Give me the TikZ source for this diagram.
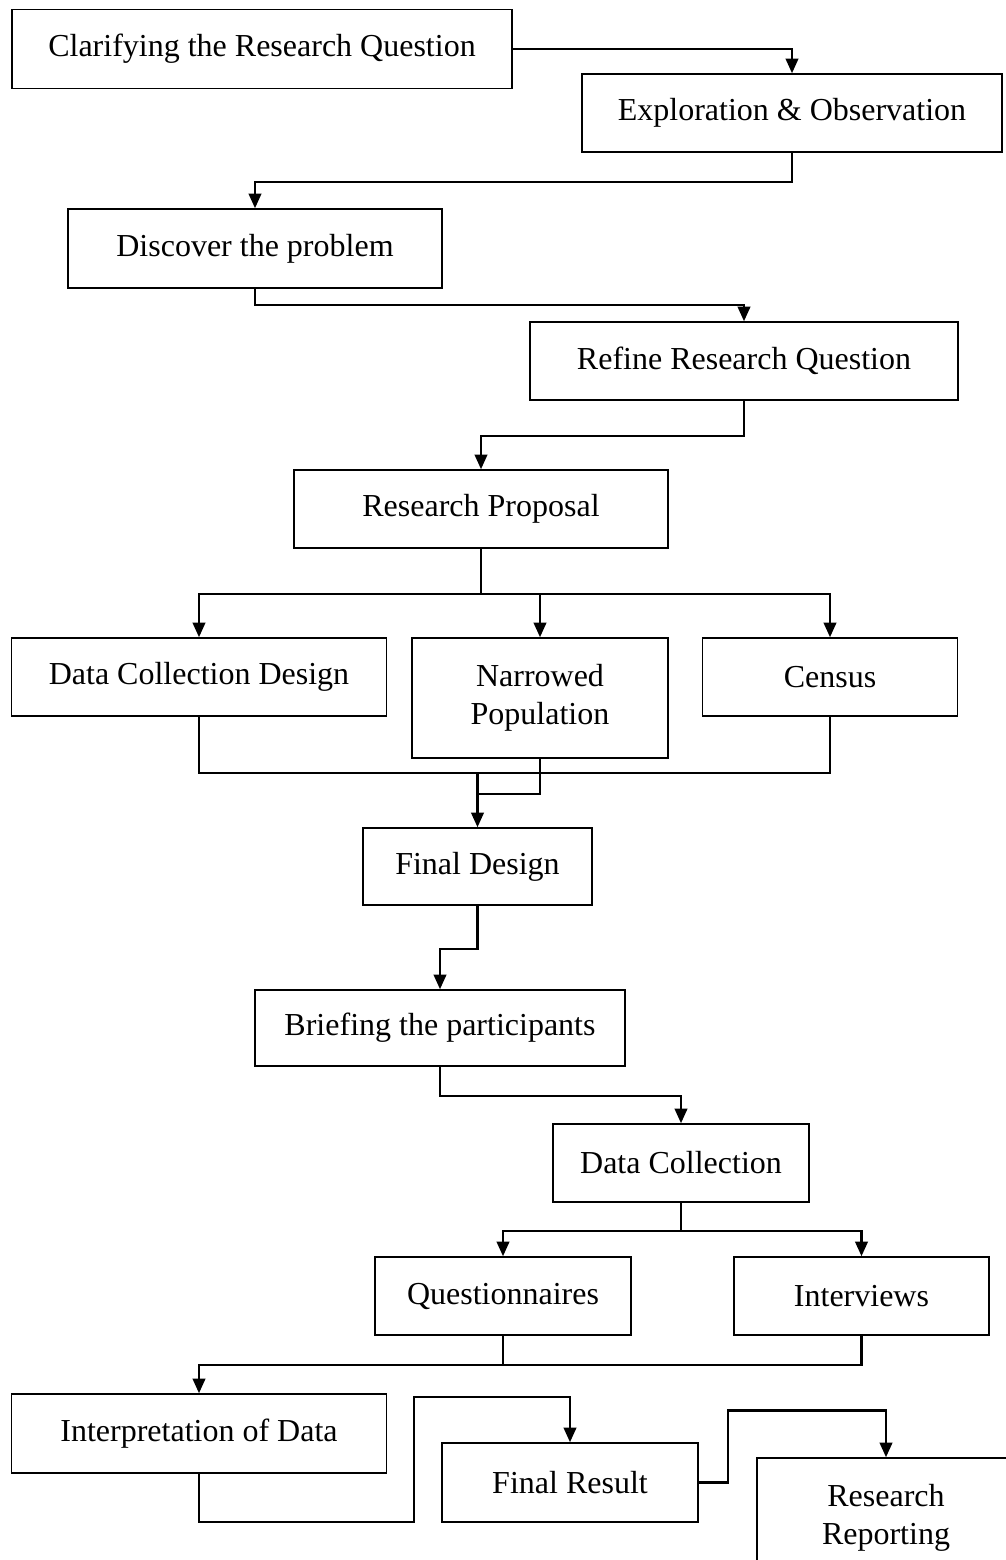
\documentclass[tikz,border=0pt]{standalone}
\usepackage{fontspec}
\setmainfont{Liberation Serif}
\usetikzlibrary{arrows.meta}
\begin{document}
\begin{tikzpicture}[x=0.75pt,y=-0.75pt,
  box/.style 2 args={draw, line width=1.2pt, inner sep=0pt, align=center,
    minimum width={#1*0.75pt}, minimum height={#2*0.75pt},
    font=\fontsize{24}{28.5}\selectfont},
  conn/.style={line width=1.6pt},
  arr/.style={conn, -{Triangle[length=11pt,width=9.5pt]}}]
\fill[white] (0,0) rectangle (1006,1560);
\clip (0,0) rectangle (1006,1560);
\node[box={500}{79}] (b1) at (262,49) {Clarifying the Research Question};
\node[box={420}{78}] (b2) at (792,113) {Exploration \& Observation};
\node[box={374}{79}] (b3) at (255,248.5) {Discover the problem};
\node[box={428}{78}] (b4) at (744,361) {Refine Research Question};
\node[box={374}{78}] (b5) at (481,509) {Research Proposal};
\node[box={375}{78}] (b6) at (199,677) {Data Collection Design};
\node[box={256}{120}] (b7) at (540,698) {Narrowed\\Population};
\node[box={255}{78}] (b8) at (830,677) {Census};
\node[box={229}{77}] (b9) at (477.5,866.5) {Final Design};
\node[box={370}{76}] (b10) at (440,1028) {Briefing the participants};
\node[box={256}{78}] (b11) at (681,1163) {Data Collection};
\node[box={256}{78}] (b12) at (503,1296) {Questionnaires};
\node[box={255}{78}] (b13) at (861.5,1296) {Interviews};
\node[box={375}{79}] (b14) at (199,1433.5) {Interpretation of Data};
\node[box={256}{79}] (b15) at (570,1482.5) {Final Result};
\node[box={258}{120}] (b16) at (886,1518) {Research\\Reporting};

\draw[arr] (b1.east) -| (b2.north);
\draw[arr] (b2.south) -- ++(0,29) -| (b3.north);
\draw[arr] (b3.south) -- ++(0,16) -| (b4.north);
\draw[arr] (b4.south) -- ++(0,35) -| (b5.north);
\draw[conn] (b5.south) -- ++(0,45) coordinate (j1);
\draw[arr] (j1) -| (b6.north);
\draw[arr] (j1) -| (b8.north);
\draw[arr] (j1 -| b7.north) -- (b7.north);
\draw[conn] (b6.south) -- ++(0,56) coordinate (m1) -| (b8.south);
\draw[arr] (b7.south) -- ++(0,35) -| (b9.north);
\draw[conn] (m1 -| b9.north) -- ++(0,22);
\draw[arr] (b9.south) -- ++(0,43) -| (b10.north);
\draw[arr] (b10.south) -- ++(0,29) -| (b11.north);
\draw[conn] (b11.south) -- ++(0,28) coordinate (j3);
\draw[arr] (j3) -| (b12.north);
\draw[arr] (j3) -| (b13.north);
\draw[conn] (b12.south) -- ++(0,29);
\draw[arr] (b13.south) -- ++(0,29) -| (b14.north);
\draw[arr] (b14.south) |- ++(215,48) -- ++(0,-125) -| (b15.north);
\draw[arr] (b15.east) -- ++(29,0) -- ++(0,-72) -| (b16.north);
\end{tikzpicture}
\end{document}
